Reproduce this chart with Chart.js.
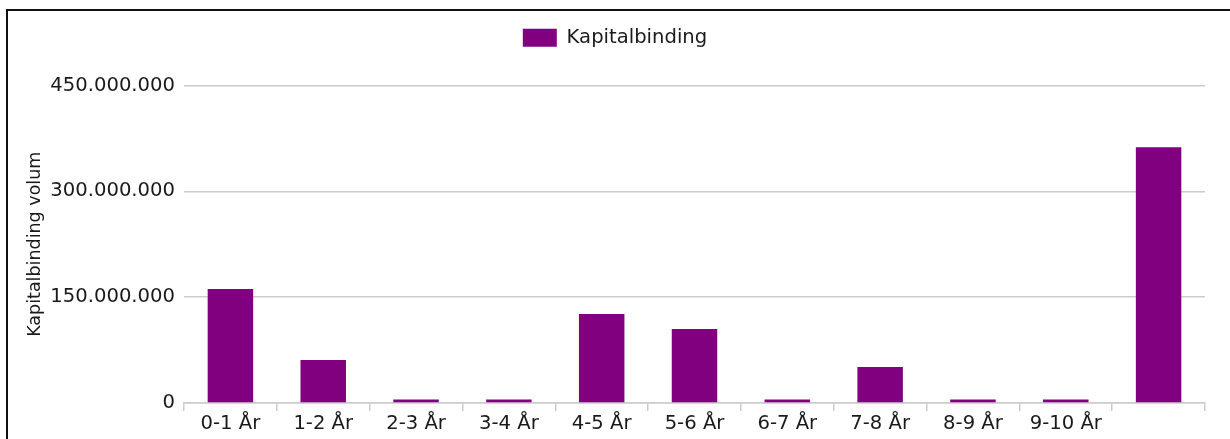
<!DOCTYPE html>
<html>
<head>
<meta charset="utf-8">
<script src="https://cdn.jsdelivr.net/npm/chart.js@4/dist/chart.umd.min.js"></script>
<style>
    body { margin: 0; background: #fff; overflow: hidden; }
    #wrap { position: absolute; left: 0; top: 0; width: 1230px; height: 439px; }
    #frame {
        position: absolute; left: 6px; top: 9px; width: 1300px; height: 500px;
        border-left: 2px solid #111; border-top: 2px solid #111; pointer-events: none;
    }
</style>
</head>
<body>
<div id="wrap"><canvas id="kapitalChart" width="1230" height="439"></canvas></div>
<div id="frame"></div>
<script>
const categories = ['0-1 År', '1-2 År', '2-3 År', '3-4 År', '4-5 År', '5-6 År', '6-7 År', '7-8 År', '8-9 År', '9-10 År', ''];
const kapitalbinding = [161500000, 61000000, 5000000, 5000000, 126000000, 105000000, 5000000, 51000000, 5000000, 5000000, 362500000];
const yTicks = [0, 150000000, 300000000, 450000000];

const font = { family: 'DejaVu Sans', size: 19.6 };
const titleFont = { family: 'DejaVu Sans', size: 17.5 };

function formatNumber(v) {
    return String(v).replace(/\B(?=(\d{3})+(?!\d))/g, '.');
}

// keep the legend tall so the plot starts at the right height
const legendHeight = {
    id: 'legendHeight',
    beforeInit(chart) {
        const fit = chart.legend.fit;
        chart.legend.fit = function() {
            fit.call(this);
            this.height = 85.5;
        };
    }
};

const ctx = document.getElementById('kapitalChart').getContext('2d');

new Chart(ctx, {
    type: 'bar',
    data: {
        labels: categories,
        datasets: [{
            label: 'Kapitalbinding',
            data: kapitalbinding,
            backgroundColor: '#800080',
            borderWidth: 0,
            categoryPercentage: 1,
            barPercentage: 0.49
        }]
    },
    options: {
        responsive: false,
        animation: false,
        layout: { padding: { left: 25, right: 25, top: 0, bottom: 0 } },
        plugins: {
            tooltip: { enabled: false },
            legend: {
                position: 'top',
                labels: {
                    font: font,
                    color: '#1a1a1a',
                    boxWidth: 34,
                    boxHeight: 18,
                    padding: 28
                }
            }
        },
        scales: {
            x: {
                grid: {
                    offset: true,
                    drawOnChartArea: false,
                    drawTicks: true,
                    tickLength: 8,
                    color: '#cccccc',
                    lineWidth: 1.5
                },
                border: { display: true, color: '#cccccc', width: 1.5 },
                ticks: { font: font, color: '#1a1a1a', padding: 1, maxRotation: 0, autoSkip: false },
                afterFit: function(scale) { scale.height = 36; }
            },
            y: {
                min: 0,
                max: 450000000,
                afterBuildTicks: function(scale) {
                    scale.ticks = yTicks.map(v => ({ value: v }));
                },
                grid: { drawTicks: false, color: '#cccccc', lineWidth: 1.5 },
                border: { display: false },
                ticks: {
                    font: font,
                    color: '#1a1a1a',
                    padding: 9,
                    callback: v => formatNumber(v)
                },
                title: {
                    display: true,
                    text: 'Kapitalbinding volum',
                    font: titleFont,
                    color: '#1a1a1a',
                    padding: { top: 0, bottom: 0 }
                },
                afterFit: function(scale) { scale.width = 159; }
            }
        }
    },
    plugins: [legendHeight]
});
</script>
</body>
</html>
